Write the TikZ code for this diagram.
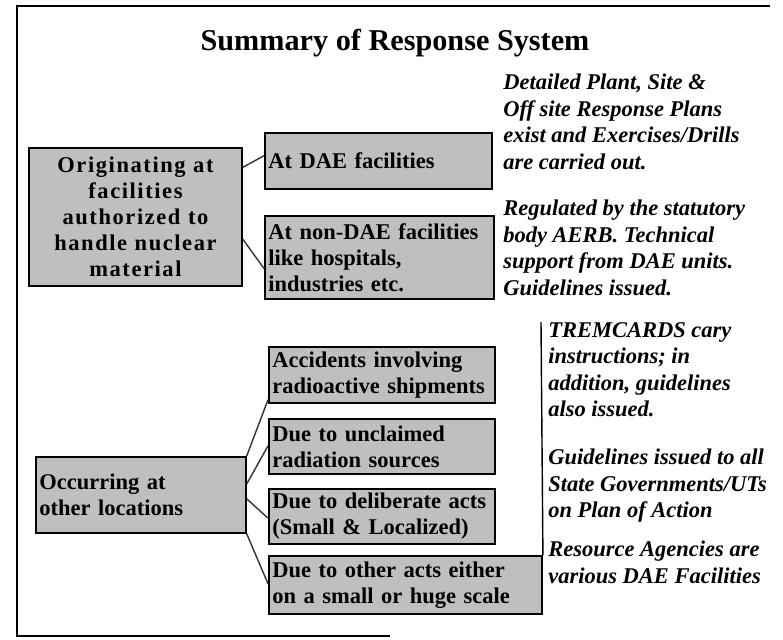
\documentclass[tikz,border=0pt]{standalone}
\usepackage{fontspec}
\setmainfont{Liberation Serif}
\usetikzlibrary{calc}

\begin{document}
\begin{tikzpicture}[
    x=0.025cm, y=-0.025cm,
    cat_box/.style={draw=black, fill=black!25, line width=1.3pt, anchor=north west,
        inner xsep=2.5pt, inner ysep=2pt, font=\bfseries\fontsize{16}{18.6}\selectfont},
    sub_box/.style={cat_box, align=left},
    note_text/.style={anchor=north west, inner sep=0pt, align=left,
        font=\bfseries\itshape\fontsize{16}{18.8}\selectfont},
    link_line/.style={black!80, line width=1pt},
    frame_line/.style={black, line width=1pt}
]

    % Bildgroesse wie Vorlage (Pixel)
    \useasboundingbox (0,0) rectangle (783,639);

    % Rahmen (rechts offen)
    \draw[frame_line] (770,6) -- (17,6) -- (17,636) -- (390,636);

    % Titel
    \node[font=\bfseries\fontsize{21.5}{26}\selectfont] (title) at (395,43)
        {Summary of Response System};

    % ======================================================================
    % OBEN: ANLAGEN MIT NUKLEARMATERIAL
    % ======================================================================
    \node[cat_box, align=center, text width=5.15cm, minimum height=3.45cm,
          font=\bfseries\fontsize{16}{18.6}\selectfont\addfontfeature{LetterSpace=7}] (orig) at (28,147)
        {Originating at\\facilities\\authorized to\\handle nuclear\\material};

    \node[sub_box, text width=5.5cm, minimum height=1.4cm] (dae) at (264,132)
        {At DAE facilities};
    \node[sub_box, text width=5.55cm, minimum height=2.075cm] (nondae) at (264,215)
        {At non-DAE facilities\\like hospitals,\\industries etc.};

    \draw[link_line] ($(orig.north east)!0.145!(orig.south east)$) -- ($(dae.north west)!0.41!(dae.south west)$);
    \draw[link_line] ($(orig.north east)!0.66!(orig.south east)$) -- ($(nondae.north west)!0.63!(nondae.south west)$);

    \node[note_text] (note_dae) at (503,74)
        {Detailed Plant, Site \&\\Off site Response Plans\\exist and Exercises/Drills\\are carried out.};
    \node[note_text] (note_aerb) at (503,200)
        {Regulated by the statutory\\body AERB. Technical\\support from DAE units.\\Guidelines issued.};

    % ======================================================================
    % UNTEN: ANDERE ORTE
    % ======================================================================
    \node[sub_box, text width=5.07cm, minimum height=1.9cm] (occur) at (35,456)
        {Occurring at\\other locations};

    \node[sub_box, text width=5.47cm, minimum height=1.4cm] (ship) at (268,346)
        {Accidents involving\\radioactive shipments};
    \node[sub_box, text width=5.47cm, minimum height=1.375cm] (unclaimed) at (268,418)
        {Due to unclaimed\\radiation sources};
    \node[sub_box, text width=5.47cm, minimum height=1.375cm] (deliberate) at (268,488)
        {Due to deliberate acts\\(Small \& Localized)};
    \node[sub_box, text width=6.65cm, minimum height=1.45cm] (otheracts) at (268,555)
        {Due to other acts either\\on a small or huge scale};

    \draw[link_line] (occur.north east) -- ($(ship.north west)!0.93!(ship.south west)$);
    \draw[link_line] ($(occur.north east)!0.36!(occur.south east)$) -- ($(unclaimed.north west)!0.49!(unclaimed.south west)$);
    \draw[link_line] ($(occur.north east)!0.55!(occur.south east)$) -- ($(deliberate.north west)!0.53!(deliberate.south west)$);
    \draw[link_line] (occur.south east) -- ($(otheracts.north west)!0.48!(otheracts.south west)$);

    % Trennlinie
    \coordinate (split_top) at (541,322);
    \draw[frame_line] (split_top) -- (otheracts.north east);

    \node[note_text] (note_trem) at (548,322)
        {TREMCARDS cary\\instructions; in\\addition, guidelines\\also issued.};
    \node[note_text] (note_states) at (548,449)
        {Guidelines issued to all\\State Governments/UTs\\on Plan of Action};
    \node[note_text] (note_res) at (548,541)
        {Resource Agencies are\\various DAE Facilities};

\end{tikzpicture}
\end{document}
